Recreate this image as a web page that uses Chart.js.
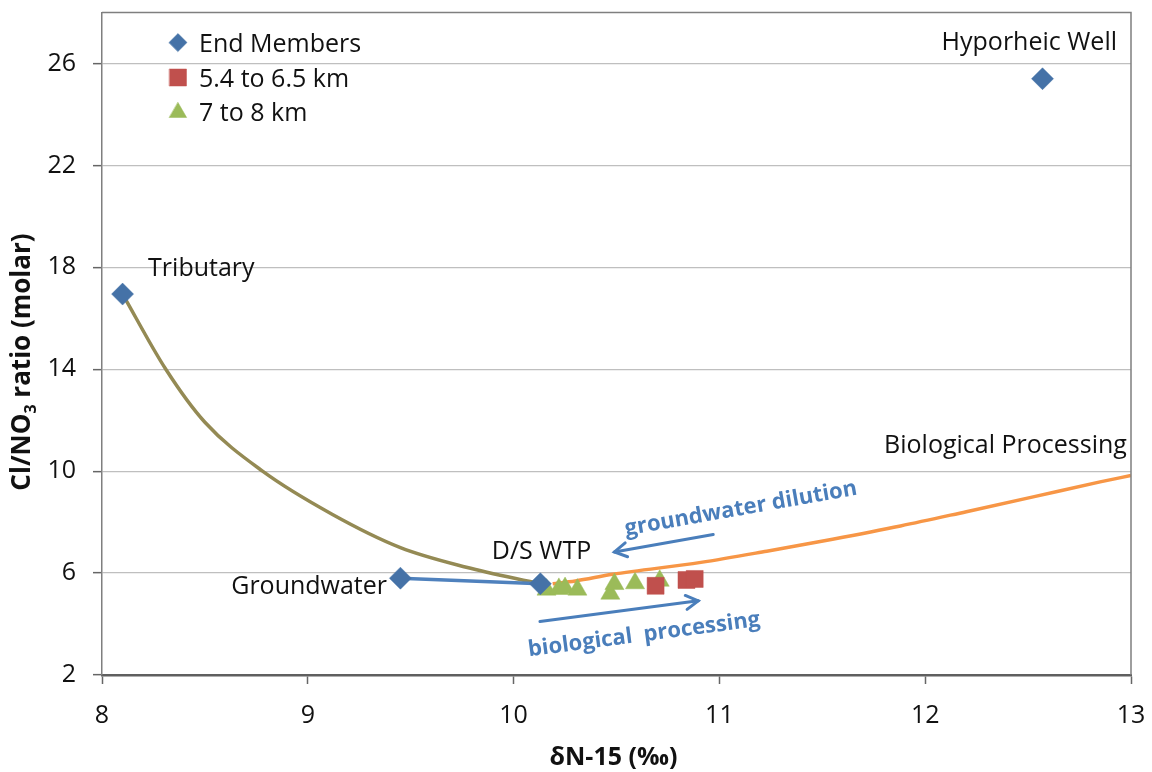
<!DOCTYPE html>
<html><head><meta charset="utf-8">
<script src="https://cdn.jsdelivr.net/npm/chart.js@4.4.1/dist/chart.umd.min.js"></script>
<style>html,body{margin:0;padding:0;background:#fff;}#wrap{width:1152px;height:772px;}</style>
</head><body><div id="wrap"><canvas id="c" width="1152" height="772"></canvas></div>
<script>
// ---------- data ----------
const xTicks = [8, 9, 10, 11, 12, 13];
const yTicks = [2, 6, 10, 14, 18, 22, 26];
const seriesNames = ['End Members', '5.4 to 6.5 km', '7 to 8 km'];

const endMembersX = [8.10, 12.57, 9.45, 10.13];
const endMembersY = [16.95, 25.40, 5.80, 5.58];
const endMemberNames = ['Tributary', 'Hyporheic Well', 'Groundwater', 'D/S WTP'];

const km54X = [10.69, 10.84, 10.88];
const km54Y = [5.50, 5.73, 5.77];

const km78X = [10.16, 10.22, 10.25, 10.31, 10.47, 10.49, 10.59, 10.71];
const km78Y = [5.35, 5.38, 5.41, 5.35, 5.19, 5.57, 5.60, 5.70];

// mixing curve Tributary -> D/S WTP
const mixX = [8.10, 8.31, 8.50, 8.78, 9.12, 9.45, 9.77, 10.13];
const mixY = [16.95, 14.00, 11.92, 10.00, 8.30, 7.00, 6.23, 5.58];

// biological processing curve
const bioX = [10.19, 10.30, 10.48, 10.91, 11.23, 11.55, 11.88, 12.20, 12.53, 12.85, 13.00];
const bioY = [5.58, 5.69, 5.95, 6.42, 6.86, 7.33, 7.85, 8.41, 9.00, 9.58, 9.83];

// groundwater -> D/S WTP line
const gwX = [9.45, 10.13];
const gwY = [5.80, 5.58];

// annotation anchors (data coordinates)
const labelTexts = ['Tributary', 'Hyporheic Well', 'Groundwater', 'D/S WTP', 'Biological Processing'];
const labelX = [8.224, 12.932, 9.385, 9.894, 12.98];
const labelY = [17.65, 26.53, 5.17, 6.56, 10.71];
const labelAlign = ['left', 'right', 'right', 'left', 'right'];

const arrowTexts = ['groundwater dilution', 'biological  processing'];
const arrowTextX = [11.11, 10.638];
const arrowTextY = [8.28, 3.33];
const arrowTextAngle = [-10, -7.5];
const arrowFromX = [10.97, 10.128];
const arrowFromY = [7.51, 4.10];
const arrowToX = [10.49, 10.897];
const arrowToY = [6.83, 4.91];

// ---------- helpers ----------
const pts = (xs, ys) => xs.map((v, i) => ({ x: v, y: ys[i] }));

const BLUE = '#4572A7', RED = '#C0504D', GREEN = '#9BBB59';
const FONT = "'Open Sans', 'Noto Sans', sans-serif";

const overlay = {
  id: 'overlay',
  afterDatasetsDraw(chart) {
    const { ctx, chartArea: a, scales: { x, y } } = chart;
    ctx.save();
    // plot frame top/right
    ctx.strokeStyle = '#7f7f7f'; ctx.lineWidth = 1.5;
    ctx.beginPath(); ctx.moveTo(a.left, a.top); ctx.lineTo(a.right, a.top); ctx.lineTo(a.right, a.bottom); ctx.stroke();

    // point labels
    ctx.fillStyle = '#111';
    ctx.font = '25px ' + FONT;
    ctx.textBaseline = 'alphabetic';
    labelTexts.forEach((t, i) => {
      ctx.textAlign = labelAlign[i];
      ctx.fillText(t, x.getPixelForValue(labelX[i]), y.getPixelForValue(labelY[i]));
    });

    // arrows
    ctx.strokeStyle = '#4A7EBB'; ctx.lineWidth = 3; ctx.lineCap = 'round';
    arrowFromX.forEach((fx, i) => {
      const x1 = x.getPixelForValue(fx), y1 = y.getPixelForValue(arrowFromY[i]);
      const x2 = x.getPixelForValue(arrowToX[i]), y2 = y.getPixelForValue(arrowToY[i]);
      const ang = Math.atan2(y2 - y1, x2 - x1), L = 14, sp = Math.PI / 6;
      ctx.beginPath(); ctx.moveTo(x1, y1); ctx.lineTo(x2, y2); ctx.stroke();
      ctx.beginPath();
      ctx.moveTo(x2 - L * Math.cos(ang - sp), y2 - L * Math.sin(ang - sp));
      ctx.lineTo(x2, y2);
      ctx.lineTo(x2 - L * Math.cos(ang + sp), y2 - L * Math.sin(ang + sp));
      ctx.stroke();
    });
    // arrow texts
    ctx.fillStyle = '#4A7EBB';
    ctx.font = 'bold 22px ' + FONT;
    ctx.textAlign = 'center';
    arrowTexts.forEach((t, i) => {
      ctx.save();
      ctx.translate(x.getPixelForValue(arrowTextX[i]), y.getPixelForValue(arrowTextY[i]));
      ctx.rotate(arrowTextAngle[i] * Math.PI / 180);
      ctx.fillText(t, 0, 0);
      ctx.restore();
    });

    // legend
    const ds = chart.data.datasets;
    const lx = a.left + 76, rows = [40, 75, 109], radii = [9, 12, 10];
    ctx.font = '25px ' + FONT; ctx.textAlign = 'left'; ctx.textBaseline = 'alphabetic';
    seriesNames.forEach((n, i) => {
      ctx.fillStyle = ds[i].backgroundColor; ctx.strokeStyle = ds[i].backgroundColor; ctx.lineWidth = 0.5;
      Chart.helpers.drawPoint(ctx, { pointStyle: ds[i].pointStyle, radius: radii[i], rotation: 0, borderWidth: 0.5 },
        lx, a.top + rows[i] - 10 + (i === 2 ? 1 : 0));
      ctx.fillStyle = '#111';
      ctx.fillText(n, a.left + 97, a.top + rows[i] - 1);
    });

    // axis titles
    ctx.fillStyle = '#111';
    ctx.font = 'bold 25px ' + FONT; ctx.textAlign = 'center';
    ctx.fillText('δN-15 (‰)', (a.left + a.right) / 2 - 3, 765);

    ctx.save();
    ctx.translate(30, 362); ctx.rotate(-Math.PI / 2);
    const big = 'bold 26px ' + FONT, small = 'bold 16px ' + FONT;
    const p1 = 'Cl/NO', p2 = '3', p3 = ' ratio (molar)';
    ctx.font = big; const w1 = ctx.measureText(p1).width, w3 = ctx.measureText(p3).width;
    ctx.font = small; const w2 = ctx.measureText(p2).width;
    let sx = -(w1 + w2 + w3) / 2;
    ctx.textAlign = 'left';
    ctx.font = big; ctx.fillText(p1, sx, 0); sx += w1;
    ctx.font = small; ctx.fillText(p2, sx, 6); sx += w2;
    ctx.font = big; ctx.fillText(p3, sx, 0);
    ctx.restore();

    ctx.restore();
  }
};

new Chart(document.getElementById('c'), {
  type: 'scatter',
  data: {
    datasets: [
      { label: seriesNames[0], data: pts(endMembersX, endMembersY), pointStyle: 'rectRot', pointRadius: 11,
        backgroundColor: BLUE, borderColor: BLUE, borderWidth: 0.5, order: 1 },
      { label: seriesNames[1], data: pts(km54X, km54Y), pointStyle: 'rect', pointRadius: 12,
        backgroundColor: RED, borderColor: RED, borderWidth: 0.5, order: 2 },
      { label: seriesNames[2], data: pts(km78X, km78Y), pointStyle: 'triangle', pointRadius: 11,
        backgroundColor: GREEN, borderColor: GREEN, borderWidth: 0.5, order: 3 },
      { label: 'mixing', data: pts(mixX, mixY), showLine: true, pointRadius: 0, borderColor: '#948A54',
        borderWidth: 3.5, cubicInterpolationMode: 'monotone', order: 10 },
      { label: 'bio', data: pts(bioX, bioY), showLine: true, pointRadius: 0, borderColor: '#F79646',
        borderWidth: 3.5, cubicInterpolationMode: 'monotone', order: 9 },
      { label: 'gw', data: pts(gwX, gwY), showLine: true, pointRadius: 0, borderColor: '#4F81BD',
        borderWidth: 3.5, order: 8 }
    ]
  },
  options: {
    responsive: false, animation: false, devicePixelRatio: 1,
    layout: { padding: { left: 0, right: 21, top: 10, bottom: 0 } },
    plugins: { legend: { display: false }, tooltip: { enabled: false } },
    scales: {
      x: {
        type: 'linear', min: 8, max: 13,
        afterBuildTicks: s => { s.ticks = xTicks.map(v => ({ value: v })); },
        afterFit: s => { s.height = 97; s.paddingLeft = 0; s.paddingRight = 0; },
        grid: { drawOnChartArea: false, drawTicks: true, tickLength: 9, tickColor: '#666', tickWidth: 1.5 },
        border: { color: '#5f5f5f', width: 2.5 },
        ticks: { font: { family: FONT, size: 25 }, color: '#111', padding: 17 }
      },
      y: {
        type: 'linear', min: 2, max: 28,
        afterBuildTicks: s => { s.ticks = yTicks.map(v => ({ value: v })); },
        afterFit: s => { s.width = 102; s.paddingTop = 0; s.paddingBottom = 0; },
        grid: { color: '#BFBFBF', lineWidth: 1.3, drawTicks: true, tickLength: 9, tickColor: '#666', tickWidth: 1.5 },
        border: { color: '#7f7f7f', width: 1.5 },
        ticks: { font: { family: FONT, size: 25 }, color: '#111', padding: 17 }
      }
    }
  },
  plugins: [overlay]
});
</script></body></html>
